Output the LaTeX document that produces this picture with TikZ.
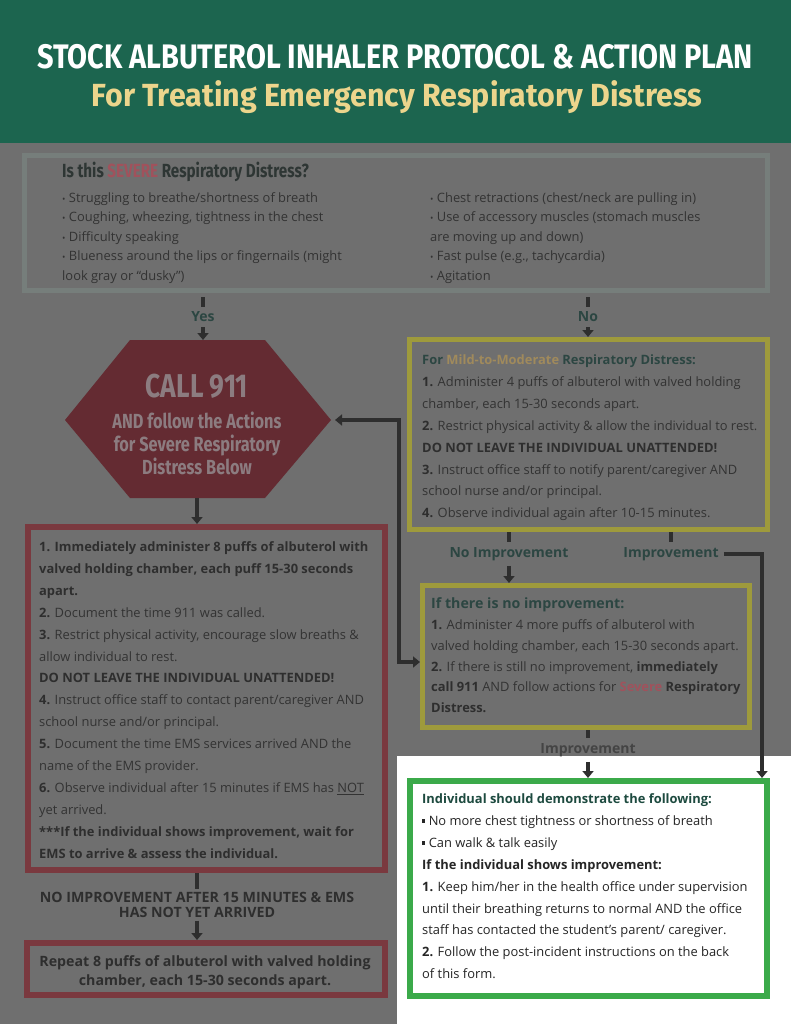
\documentclass[tikz,border=0pt]{standalone}
\usepackage{fontspec}
\setmainfont{Open Sans}
\newfontfamily\condfont[FakeStretch=0.8]{Fira Sans}
\newfontfamily\titlefont[FakeStretch=0.85]{Fira Sans}
\newfontfamily\subfont[FakeStretch=0.95]{Fira Sans}
\usetikzlibrary{arrows.meta, positioning}

\definecolor{headgreen}{HTML}{1C654F}
\definecolor{gold}{HTML}{ECD58C}
\definecolor{dimbg}{HTML}{6F6F6F}
\definecolor{dimframe}{HTML}{767E7B}
\definecolor{dimred}{HTML}{7A393F}
\definecolor{dimhex}{HTML}{642B32}
\definecolor{dimhextext}{HTML}{8C7C80}
\definecolor{dimyellow}{HTML}{9E9A3C}
\definecolor{dimtext}{HTML}{333333}
\definecolor{dimbold}{HTML}{2E2E2E}
\definecolor{dimhead}{HTML}{2E3634}
\definecolor{dimteal}{HTML}{2C4642}
\definecolor{dimsevere}{HTML}{A0525C}
\definecolor{dimorange}{HTML}{A08A5C}
\definecolor{okgreen}{HTML}{3BAA4A}
\definecolor{darkteal}{HTML}{1D4A3F}
\definecolor{linegrey}{HTML}{2E2E2E}
\definecolor{edgegrey}{HTML}{444444}

\newcommand{\dotmark}{{\fontsize{9}{9}\selectfont\textbullet}\ }
\newcommand{\sqmark}{\rule[2.8pt]{3.2pt}{3.2pt}\ }

\begin{document}
\begin{tikzpicture}[
    x=1pt, y=-1pt,
    frame/.style={rectangle, inner sep=0pt},
    qbox/.style={frame, draw=dimframe, line width=5pt},
    redbox/.style={frame, draw=dimred, line width=6pt},
    yellowbox/.style={frame, draw=dimyellow, line width=5pt},
    greenbox/.style={frame, draw=okgreen, line width=6pt, fill=white},
    body/.style={anchor=north west, inner sep=0pt, align=left, text=dimtext, font=\fontsize{12.9}{21.9}\selectfont},
    heading/.style={inner sep=0pt, font=\condfont\bfseries\fontsize{#1}{#1}\selectfont},
    tag/.style={inner sep=5pt, text=dimteal, font=\bfseries\fontsize{14}{16}\selectfont},
    wire/.style={draw=linegrey, line width=4pt},
    arrow/.style={wire, -{Triangle[length=7pt,width=11pt]}},
    twoway/.style={wire, {Triangle[length=7pt,width=11pt]}-{Triangle[length=7pt,width=11pt]}}
]
\useasboundingbox (0,0) rectangle (791,1024);
\fill[dimbg] (0,0) rectangle (791,1024);
\fill[white] (397,756) rectangle (791,1024);
\fill[headgreen] (0,0) rectangle (791,143);

% header
\node (title) [inner sep=0pt, text=white, font=\titlefont\bfseries\fontsize{34}{34}\selectfont] at (395,57) {STOCK ALBUTEROL INHALER PROTOCOL \& ACTION PLAN};
\node (subtitle) [inner sep=0pt, text=gold, font=\subfont\bfseries\fontsize{32}{32}\selectfont] at (397,97) {For Treating Emergency Respiratory Distress};

% severe or not
\node (severe) [qbox, minimum width=743, minimum height=135] at (396,223) {};
\node (severeq) [heading=19, anchor=base west, text=dimhead] at (62,178) {Is this \textcolor{dimsevere}{SEVERE} Respiratory Distress?};
\node (signsL) [body, font=\fontsize{12.9}{19.5}\selectfont] at (62,192) {\dotmark Struggling to breathe/shortness of breath\\ \dotmark Coughing, wheezing, tightness in the chest\\ \dotmark Difficulty speaking\\ \dotmark Blueness around the lips or fingernails (might\\ look gray or “dusky”)};
\node (signsR) [body, font=\fontsize{12.9}{19.5}\selectfont] at (430,192) {\dotmark Chest retractions (chest/neck are pulling in)\\ \dotmark Use of accessory muscles (stomach muscles\\ are moving up and down)\\ \dotmark Fast pulse (e.g., tachycardia)\\ \dotmark Agitation};

% call 911
\fill[dimhex] (65,420) -- (130,340) -- (265,340) -- (331,420) -- (265,498) -- (130,498) -- cycle;
\coordinate (callN) at (203,340);
\coordinate (callS) at (197,498);
\coordinate (callE) at (335,420);
\node (call) [heading=33, text=dimhextext] at (197,386) {CALL 911};
\node (callnote) [inner sep=0pt, align=center, text=dimhextext, font=\condfont\bfseries\fontsize{20.4}{23}\selectfont] at (197,443) {AND follow the Actions\\for Severe Respiratory\\Distress Below};

\node (yes) [tag] at (203,317) {Yes};
\draw[wire, shorten <=4pt] (severe.south -| yes) -- (yes.north);
\draw[arrow] (yes.south) -- (callN);

% severe steps
\node (steps) [redbox, minimum width=357, minimum height=343] at (206.5,698.5) {};
\node (stepstext) [body] at (39,541.5) {\textbf{\color{dimbold}1. Immediately administer 8 puffs of albuterol with}\\
\textbf{\color{dimbold}valved holding chamber, each puff 15-30 seconds}\\
\textbf{\color{dimbold}apart.}\\
\textbf{\color{dimbold}2.} Document the time 911 was called.\\
\textbf{\color{dimbold}3.} Restrict physical activity, encourage slow breaths \&\\
allow individual to rest.\\
\textbf{\color{dimbold}DO NOT LEAVE THE INDIVIDUAL UNATTENDED!}\\
\textbf{\color{dimbold}4.} Instruct office staff to contact parent/caregiver AND\\
school nurse and/or principal.\\
\textbf{\color{dimbold}5.} Document the time EMS services arrived AND the\\
name of the EMS provider.\\
\textbf{\color{dimbold}6.} Observe individual after 15 minutes if EMS has \underline{NOT}\\
yet arrived.\\
\textbf{\color{dimbold}***If the individual shows improvement, wait for}\\
\textbf{\color{dimbold}EMS to arrive \& assess the individual.}};
\draw[arrow] (callS) -- (steps.north -| callS);

\node (waiting) [tag, align=center, text=dimbold, font=\bfseries\fontsize{14.2}{14.5}\selectfont, inner sep=3pt] at (197,905) {NO IMPROVEMENT AFTER 15 MINUTES \& EMS\\HAS NOT YET ARRIVED};
\draw[wire] (steps.south -| waiting) -- (waiting.north);
\node (repeat) [redbox, minimum width=358, minimum height=52] at (206,969) {};
\node (repeattext) [inner sep=0pt, align=center, text=dimbold, font=\bfseries\fontsize{14.2}{19}\selectfont] at (205,972) {Repeat 8 puffs of albuterol with valved holding\\chamber, each 15-30 seconds apart.};
\draw[arrow] (waiting.south) -- (repeat.north -| waiting);

% mild to moderate
\node (mild) [yellowbox, minimum width=358, minimum height=190] at (588.5,434.5) {};
\node (mildtext) [body] at (422,354.5) {\textbf{\color{dimteal}For \textcolor{dimorange}{Mild-to-Moderate} Respiratory Distress:}\\
\textbf{\color{dimbold}1.} Administer 4 puffs of albuterol with valved holding\\
chamber, each 15-30 seconds apart.\\
\textbf{\color{dimbold}2.} Restrict physical activity \& allow the individual to rest.\\
\textbf{\color{dimbold}DO NOT LEAVE THE INDIVIDUAL UNATTENDED!}\\
\textbf{\color{dimbold}3.} Instruct office staff to notify parent/caregiver AND\\
school nurse and/or principal.\\
\textbf{\color{dimbold}4.} Observe individual again after 10-15 minutes.};

\node (no) [tag] at (588,317) {No};
\draw[wire, shorten <=4pt] (severe.south -| no) -- (no.north);
\draw[arrow] (no.south) -- (mild.north -| no);

% no improvement
\node (noimp) [yellowbox, minimum width=327, minimum height=142] at (586,656.5) {};
\node (noimptitle) [anchor=base west, inner sep=0pt, text=dimteal, font=\bfseries\fontsize{14.2}{18}\selectfont] at (431,608) {If there is no improvement:};
\node (noimptext) [body, font=\fontsize{12.9}{20.8}\selectfont] at (431,619.5) {\textbf{\color{dimbold}1.} Administer 4 more puffs of albuterol with\\
valved holding chamber, each 15-30 seconds apart.\\
\textbf{\color{dimbold}2.} If there is still no improvement, \textbf{\color{dimbold}immediately}\\
\textbf{\color{dimbold}call 911} AND follow actions for \textbf{\color{dimsevere}Severe} \textbf{\color{dimbold}Respiratory}\\
\textbf{\color{dimbold}Distress.}};

\node (worse) [tag] at (509,554) {No Improvement};
\draw[wire] (mild.south -| worse) -- (worse.north);
\draw[arrow] (worse.south) -- (noimp.north -| worse);
\draw[twoway] (callE) -- (399,420) |- (noimp.west |- 0,662);

% improvement
\node (green) [greenbox, minimum width=357, minimum height=215] at (588.5,888.5) {};
\node (greentext) [body, text=black!85] at (422,793.5) {\textbf{\color{darkteal}Individual should demonstrate the following:}\\
\sqmark No more chest tightness or shortness of breath\\
\sqmark Can walk \& talk easily\\
\textbf{If the individual shows improvement:}\\
\textbf{1.} Keep him/her in the health office under supervision\\
until their breathing returns to normal AND the office\\
staff has contacted the student’s parent/ caregiver.\\
\textbf{2.} Follow the post-incident instructions on the back\\
of this form.};

\node (better) [tag] at (671,554) {Improvement};
\draw[wire] (mild.south -| better) -- (better.north);
\draw[arrow] (better.east) -| (green.north -| 762,0);

\node (recovered) [tag, text=edgegrey] at (588,750) {Improvement};
\draw[wire] (noimp.south -| recovered) -- (recovered.north);
\draw[arrow] (recovered.south) -- (green.north -| recovered);

\end{tikzpicture}
\end{document}
